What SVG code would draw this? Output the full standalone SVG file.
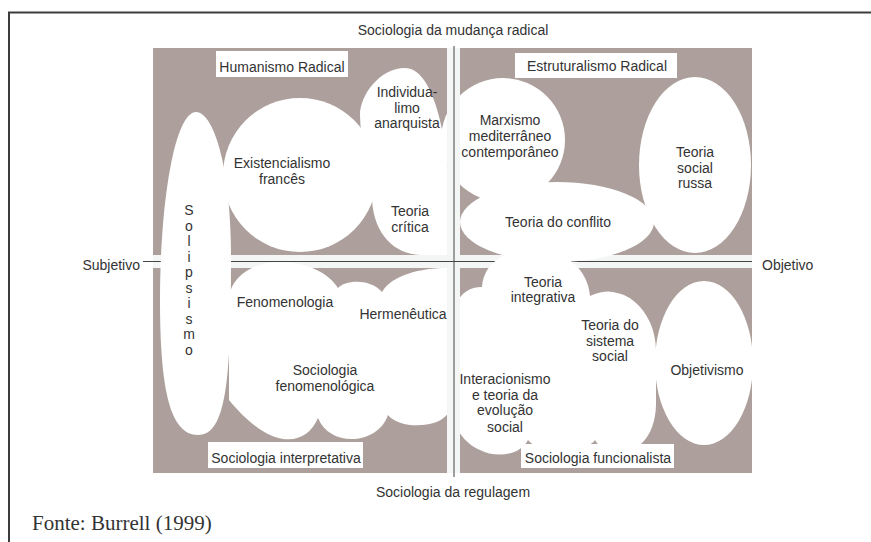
<svg xmlns="http://www.w3.org/2000/svg" width="871" height="542" viewBox="0 0 871 542">
<style>
text{font-family:"Liberation Sans",Arial,sans-serif;font-size:14px;fill:#333;text-anchor:middle}
.blob{fill:#fff}
.box{fill:#fff}
.band{fill:#f4f6f6}
.axis{stroke:#444;stroke-width:1;fill:none}
</style>
<rect width="871" height="542" fill="#fff"/>
<path d="M9 542 V12.5 H871" fill="none" stroke="#3c3c3c" stroke-width="2"/>
<text x="453" y="35">Sociologia da mudança radical</text>
<text x="453" y="497">Sociologia da regulagem</text>
<text x="32" y="530" style="font-family:'Liberation Serif','Times New Roman',serif;font-size:21px;text-anchor:start">Fonte: Burrell (1999)</text>
<text x="140" y="270" style="text-anchor:end">Subjetivo</text>
<text x="762" y="270" style="text-anchor:start">Objetivo</text>
<rect x="153" y="48" width="599" height="425" fill="#ada09c"/>
<rect class="band" x="153" y="255" width="599" height="13"/>
<g id="connectors">
<line class="axis" x1="143" y1="261.5" x2="752" y2="261.5"/>
</g>
<g id="solipsismo">
<path class="blob" d="M196 112 C212 112 231 160 231 260 C231 380 226 435 198 435 C170 435 160 390 160 300 C160 200 175 112 196 112 Z"/>
<text x="189" y="215">S</text><text x="189" y="230.5">o</text><text x="189" y="246">l</text><text x="189" y="261.5">i</text><text x="189" y="277">p</text><text x="189" y="292.5">s</text><text x="189" y="308">i</text><text x="189" y="323.5">s</text><text x="189" y="339">m</text><text x="189" y="354.5">o</text>
</g>
<g id="existencialismo">
<circle class="blob" cx="300" cy="175" r="77"/>
<text x="282" y="168">Existencialismo</text>
<text x="282" y="183.5">francês</text>
</g>
<g id="individualismo-teoria-critica">
<path class="blob" d="M405 68 C380 68 360 95 360 115 C360 140 370 170 372 200 C374 235 395 254 420 255 L448 255 L448 180 C446 130 432 68 405 68 Z"/>
<text x="407" y="97">Individua-</text>
<text x="407" y="112.5">limo</text>
<text x="407" y="128">anarquista</text>
<text x="410" y="216">Teoria</text>
<text x="410" y="232">crítica</text>
</g>
<g id="marxismo">
<circle class="blob" cx="503" cy="140" r="62"/>
<text x="510" y="125">Marxismo</text>
<text x="510" y="141">mediterrâneo</text>
<text x="510" y="157">contemporâneo</text>
</g>
<g id="teoria-conflito">
<ellipse class="blob" cx="557" cy="222" rx="97" ry="40"/>
<text x="558" y="227">Teoria do conflito</text>
</g>
<g id="teoria-social-russa">
<ellipse class="blob" cx="695" cy="165" rx="56" ry="88"/>
<text x="695" y="157">Teoria</text>
<text x="695" y="172.5">social</text>
<text x="695" y="188">russa</text>
</g>
<g id="fenomenologia">
<path class="blob" d="M229 400 L229 300 C229 280 250 262 280 262 C310 262 330 275 338 288 C345 280 370 278 382 292 C392 275 420 268 448 268 L448 413 C440 428 400 430 388 415 C378 445 330 448 318 418 C305 448 270 450 229 400 Z"/>
<text x="285" y="307">Fenomenologia</text>
<text x="403" y="319">Hermenêutica</text>
<text x="325" y="375">Sociologia</text>
<text x="325" y="391">fenomenológica</text>
</g>
<g id="funcionalismo">
<path class="blob" d="M455 305 C462 292 470 287 482 287 C485 235 585 235 590 296 A48 60 0 0 1 656 350 L656 405 C655 440 635 452 620 452 C607 452 598 446 595 440 C588 452 540 456 528 440 C520 456 495 458 480 450 C468 445 460 435 455 425 Z"/>
<text x="543" y="287">Teoria</text>
<text x="543" y="302">integrativa</text>
<text x="610" y="330">Teoria do</text>
<text x="610" y="345.5">sistema</text>
<text x="610" y="361">social</text>
<text x="505" y="383.5">Interacionismo</text>
<text x="505" y="400">e teoria da</text>
<text x="505" y="415">evolução</text>
<text x="505" y="431.5">social</text>
</g>
<g id="objetivismo">
<ellipse class="blob" cx="704" cy="363" rx="49" ry="82"/>
<text x="707" y="375">Objetivismo</text>
</g>
<rect class="band" x="447" y="48" width="13" height="425"/>
<g id="connectors-v">
<line class="axis" x1="447" y1="261.5" x2="460" y2="261.5"/>
<line class="axis" x1="454" y1="46" x2="454" y2="477"/>
</g>
<g id="humanismo-radical">
<rect class="box" x="216" y="51" width="132" height="26"/>
<text x="282" y="72">Humanismo Radical</text>
</g>
<g id="estruturalismo-radical">
<rect class="box" x="515" y="53" width="162" height="25"/>
<text x="597" y="71">Estruturalismo Radical</text>
</g>
<g id="sociologia-interpretativa">
<rect class="box" x="208" y="442" width="155" height="26"/>
<text x="286" y="463">Sociologia interpretativa</text>
</g>
<g id="sociologia-funcionalista">
<rect class="box" x="521" y="444" width="153" height="24"/>
<text x="598" y="463">Sociologia funcionalista</text>
</g>
</svg>
